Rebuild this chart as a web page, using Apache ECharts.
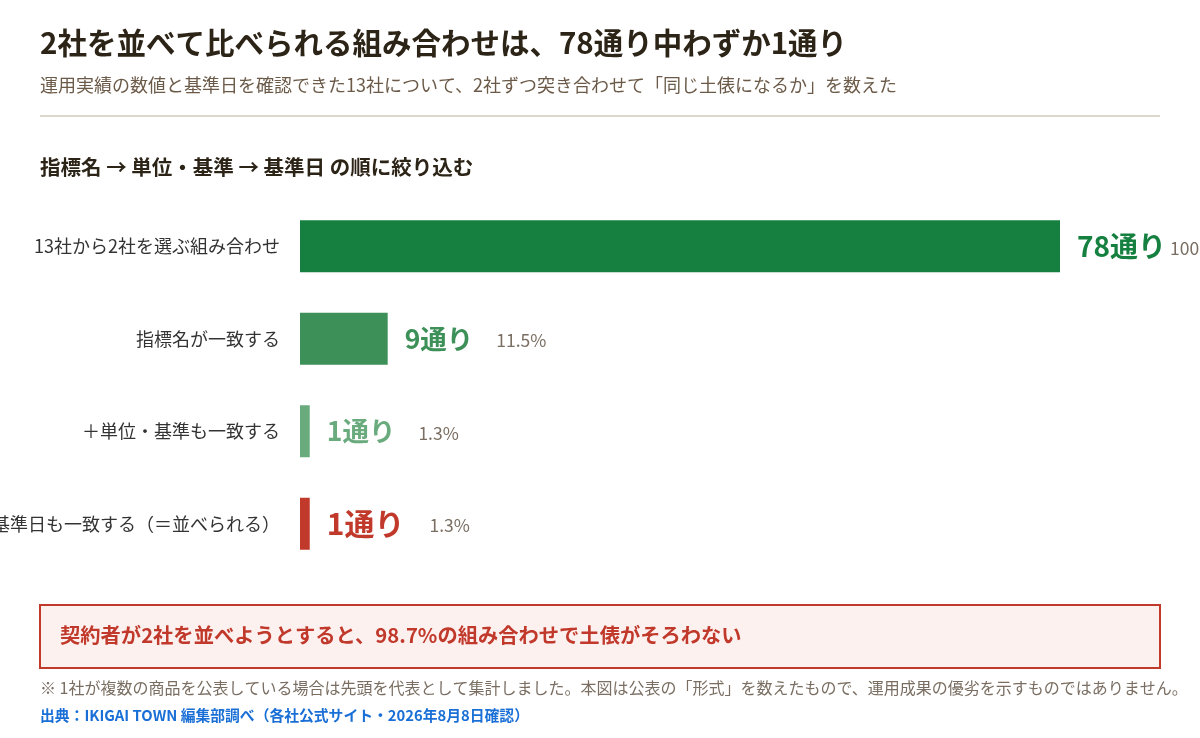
<!DOCTYPE html>
<html>
<head>
<meta charset="utf-8">
<script src="https://cdn.jsdelivr.net/npm/echarts@6/dist/echarts.min.js"></script>
<style>
    html, body { margin: 0; padding: 0; background: #fff; }
    #chart { width: 1200px; height: 738px; }
</style>
</head>
<body>
<div id="chart"></div>
<script>
// カテゴリ（上から順）
let categories = ['13社から2社を選ぶ組み合わせ', '指標名が一致する', '＋単位・基準も一致する', '＋基準日も一致する（＝並べられる）'];
// 組み合わせ数
let counts = [78, 9, 1, 1];
// 割合ラベル
let percents = ['100%', '11.5%', '1.3%', '1.3%'];
// 色
let barColors = ['#168040', '#3d9057', '#6aab7e', '#c0392b'];
let valueSizes = [28, 26.5, 26.5, 30];
let pctGaps = [4, 23, 23, 25];

let font = '"Noto Sans CJK JP", "Noto Sans", sans-serif';

let seriesData = [];
for (let i = 0; i < counts.length; i++) {
    seriesData.push({
        value: counts[i],
        itemStyle: { color: barColors[i] },
        label: {
            formatter: '{v|' + counts[i] + '通り}{p|' + percents[i] + '}',
            rich: {
                v: { fontSize: valueSizes[i], fontWeight: 'bold', color: barColors[i], fontFamily: font },
                p: { fontSize: 17.5, color: '#7a6e62', padding: [4, 0, 0, pctGaps[i]], fontFamily: font }
            }
        }
    });
}

let option = {
    animation: false,
    backgroundColor: '#fff',
    textStyle: { fontFamily: font },
    title: [{
        left: 40,
        top: 28,
        padding: 0,
        text: '2社を並べて比べられる組み合わせは、78通り中わずか1通り',
        textStyle: { fontSize: 29.5, fontWeight: 'bold', color: '#2d2418', fontFamily: font }
    }, {
        left: 40,
        top: 76,
        padding: 0,
        text: '運用実績の数値と基準日を確認できた13社について、2社ずつ突き合わせて「同じ土俵になるか」を数えた',
        textStyle: { fontSize: 18, fontWeight: 'normal', color: '#6b5a48', fontFamily: font }
    }, {
        left: 40,
        top: 157,
        padding: 0,
        text: '指標名 → 単位・基準 → 基準日 の順に絞り込む',
        textStyle: { fontSize: 20.5, fontWeight: 'bold', color: '#2d2418', fontFamily: font }
    }],
    grid: {
        left: 300,
        right: 140,
        top: 200,
        bottom: 168,
        outerBoundsMode: 'none'
    },
    xAxis: {
        type: 'value',
        min: 0,
        max: 78,
        show: false
    },
    yAxis: {
        type: 'category',
        inverse: true,
        data: categories,
        axisLine: { show: false },
        axisTick: { show: false },
        axisLabel: { fontSize: 18, color: '#333', margin: 20, fontFamily: font }
    },
    series: [{
        type: 'bar',
        data: seriesData,
        barWidth: 52,
        label: {
            show: true,
            position: 'right',
            distance: 17
        }
    }],
    graphic: [{
        type: 'line',
        shape: { x1: 40, y1: 116, x2: 1160, y2: 116 },
        style: { stroke: '#ddd8cc', lineWidth: 2 }
    }, {
        type: 'rect',
        shape: { x: 40, y: 605, width: 1120, height: 63 },
        style: { fill: '#fdf1f0', stroke: '#c0392b', lineWidth: 2 }
    }, {
        type: 'text',
        left: 60,
        top: 625,
        style: {
            text: '契約者が2社を並べようとすると、98.7%の組み合わせで土俵がそろわない',
            fontSize: 20.3,
            fontWeight: 'bold',
            fill: '#c0392b',
            fontFamily: font
        }
    }, {
        type: 'text',
        left: 40,
        top: 680,
        style: {
            text: '※ 1社が複数の商品を公表している場合は先頭を代表として集計しました。本図は公表の「形式」を数えたもので、運用成果の優劣を示すものではありません。',
            fontSize: 16,
            fill: '#7a6e62',
            fontFamily: font
        }
    }, {
        type: 'text',
        left: 40,
        top: 708,
        style: {
            text: '出典：IKIGAI TOWN 編集部調べ（各社公式サイト・2026年8月8日確認）',
            fontSize: 14.8,
            fontWeight: 'bold',
            fill: '#1a6fd6',
            fontFamily: font
        }
    }]
};

let myChart = echarts.init(document.getElementById('chart'));
myChart.setOption(option);
</script>
</body>
</html>
